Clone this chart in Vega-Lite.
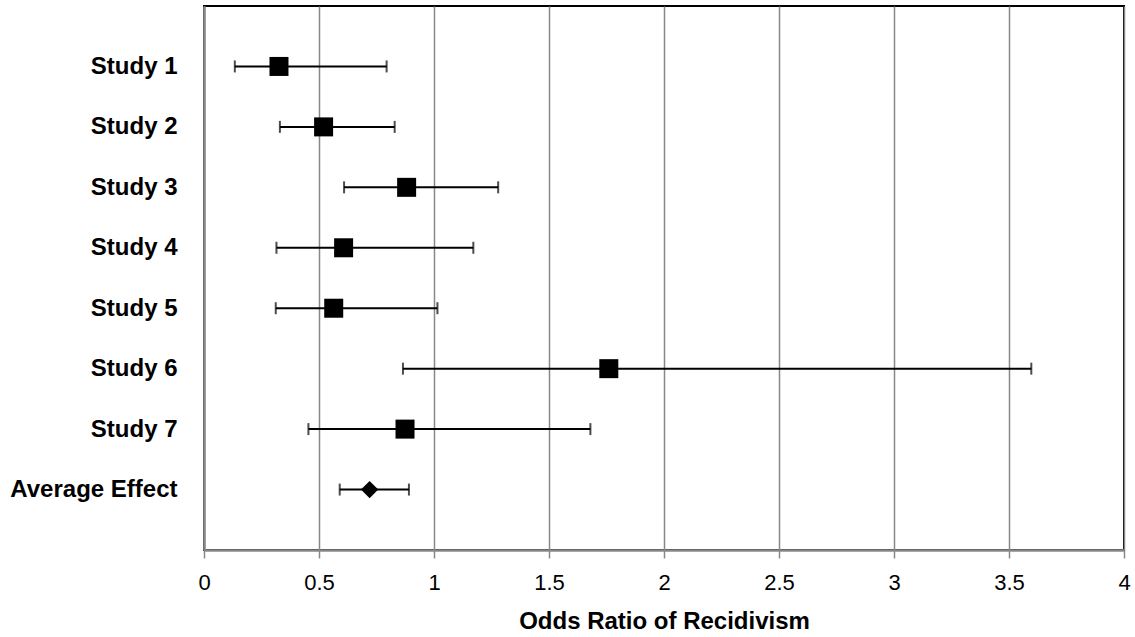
{
  "$schema": "https://vega.github.io/schema/vega-lite/v6.json",
  "width": 920,
  "height": 544,
  "autosize": {"type": "none"},
  "padding": {"left": 204, "top": 6, "right": 11, "bottom": 87},
  "background": "white",
  "config": {
    "font": "Liberation Sans",
    "view": {"stroke": "#000000", "strokeWidth": 2}
  },
  "data": {
    "values": [
      {"label": "Study 1", "or": 0.326, "lo": 0.134, "hi": 0.794, "kind": "study"},
      {"label": "Study 2", "or": 0.52, "lo": 0.33, "hi": 0.829, "kind": "study"},
      {"label": "Study 3", "or": 0.881, "lo": 0.609, "hi": 1.279, "kind": "study"},
      {"label": "Study 4", "or": 0.607, "lo": 0.315, "hi": 1.171, "kind": "study"},
      {"label": "Study 5", "or": 0.564, "lo": 0.312, "hi": 1.015, "kind": "study"},
      {"label": "Study 6", "or": 1.76, "lo": 0.865, "hi": 3.597, "kind": "study"},
      {"label": "Study 7", "or": 0.874, "lo": 0.454, "hi": 1.68, "kind": "study"},
      {"label": "Average Effect", "or": 0.72, "lo": 0.59, "hi": 0.891, "kind": "average"}
    ]
  },
  "encoding": {
    "y": {
      "field": "label",
      "type": "ordinal",
      "sort": null,
      "scale": {"type": "point", "padding": 1},
      "axis": {
        "title": null,
        "ticks": false,
        "domain": true,
        "domainColor": "#888888",
        "domainWidth": 2.5,
        "labelFont": "Liberation Sans",
        "labelFontSize": 24,
        "labelFontWeight": "bold",
        "labelColor": "#000000",
        "labelPadding": 27,
        "grid": false
      }
    }
  },
  "layer": [
    {
      "mark": {"type": "rule", "color": "#000000", "strokeWidth": 2},
      "encoding": {
        "x": {
          "field": "lo",
          "type": "quantitative",
          "scale": {"domain": [0, 4], "nice": false, "zero": false},
          "axis": {
            "title": "Odds Ratio of Recidivism",
            "values": [0, 0.5, 1, 1.5, 2, 2.5, 3, 3.5, 4],
            "format": "~g",
            "grid": true,
            "gridColor": "#888888",
            "gridWidth": 1.5,
            "gridOpacity": 1,
            "domainColor": "#888888",
            "domainWidth": 2.5,
            "tickColor": "#888888",
            "tickSize": 8,
            "tickWidth": 1.5,
            "labelFont": "Liberation Sans",
            "labelFontSize": 22,
            "labelColor": "#000000",
            "labelPadding": 14,
            "labelFlush": false,
            "titleFont": "Liberation Sans",
            "titleFontSize": 24,
            "titleFontWeight": "bold",
            "titleColor": "#000000",
            "titlePadding": 16
          }
        },
        "x2": {"field": "hi"}
      }
    },
    {
      "mark": {"type": "tick", "color": "#000000", "thickness": 2, "size": 12, "orient": "vertical"},
      "encoding": {"x": {"field": "lo", "type": "quantitative"}}
    },
    {
      "mark": {"type": "tick", "color": "#000000", "thickness": 2, "size": 12, "orient": "vertical"},
      "encoding": {"x": {"field": "hi", "type": "quantitative"}}
    },
    {
      "mark": {"type": "point", "filled": true, "opacity": 1, "strokeWidth": 0},
      "encoding": {
        "x": {"field": "or", "type": "quantitative"},
        "shape": {
          "field": "kind",
          "type": "nominal",
          "scale": {"domain": ["study", "average"], "range": ["square", "diamond"]},
          "legend": null
        },
        "size": {
          "field": "kind",
          "type": "nominal",
          "scale": {"domain": ["study", "average"], "range": [361, 300]},
          "legend": null
        },
        "color": {"value": "#000000"}
      }
    }
  ]
}
